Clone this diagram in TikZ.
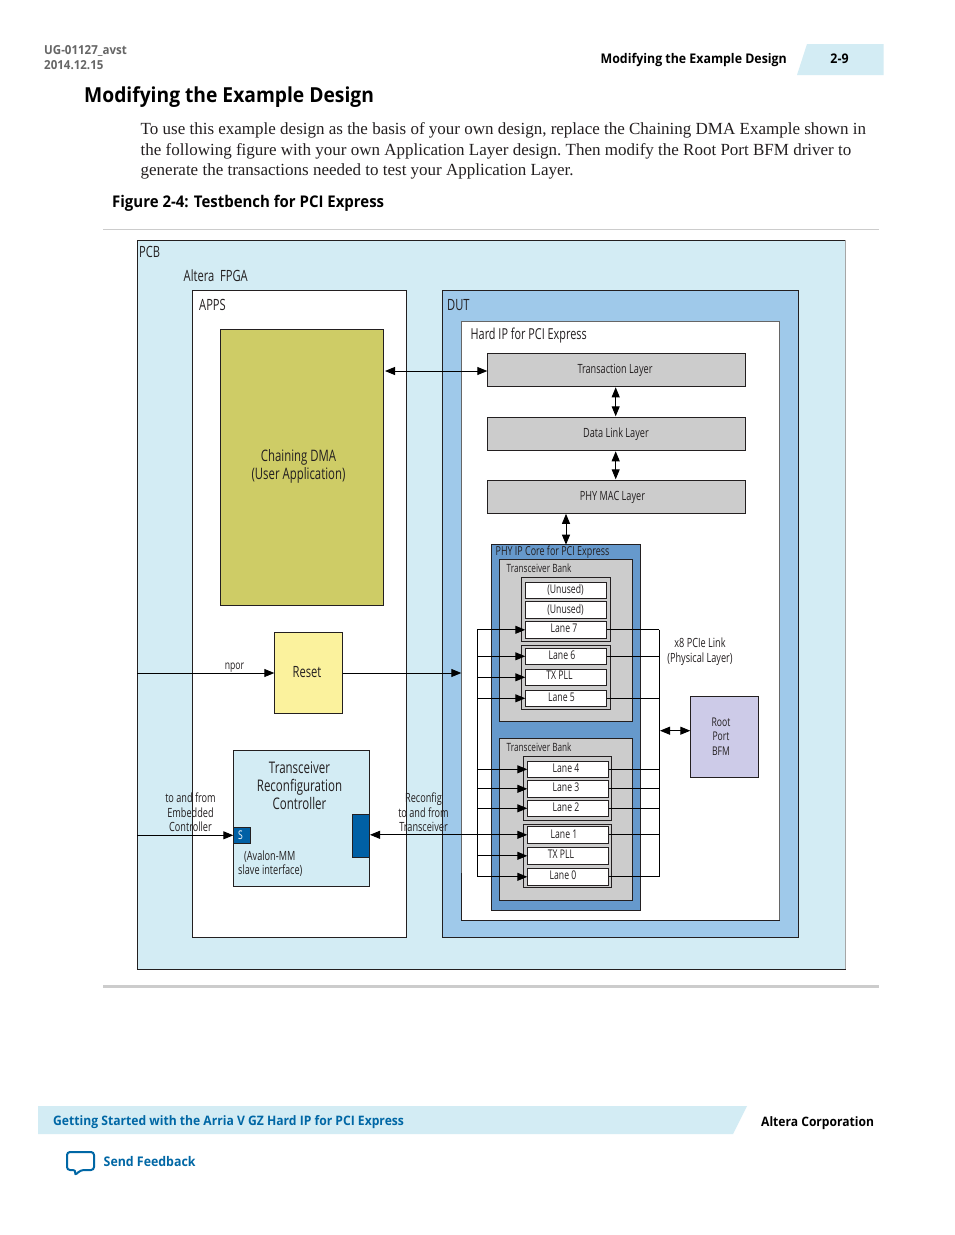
\documentclass[tikz,border=0pt]{standalone}
\usepackage{fontspec}
\usetikzlibrary{arrows.meta,fit}
\setmainfont{Liberation Serif}
\newfontfamily\hd{Open Sans}[FakeStretch=0.93]
\newfontfamily\cnd{Open Sans}[FakeStretch=0.72]
\definecolor{pcbc}{HTML}{D3ECF4}
\definecolor{dutc}{HTML}{9FC9EA}
\definecolor{phyc}{HTML}{6699CC}
\definecolor{grayc}{HTML}{CCCCCC}
\definecolor{dmac}{HTML}{CECC66}
\definecolor{resetc}{HTML}{FBF29D}
\definecolor{blk}{HTML}{0060A5}
\definecolor{rootc}{HTML}{CDCBE8}
\definecolor{linkc}{HTML}{0067A5}
\definecolor{dgray}{HTML}{666666}
\definecolor{ink}{HTML}{231F20}
\newcommand\bx[6]{\node[box,#6,fit={(#2,#3)(#4,#5)}] (#1) {};}
\tikzset{
  box/.style={draw=ink,line width=0.9pt,inner sep=0pt,outer sep=0pt,minimum size=0pt},
  conn/.style={draw=black,line width=0.9pt},
  arr/.style={conn,-{Triangle[length=10pt,width=8pt]}},
  dbl/.style={conn,{Triangle[length=10pt,width=8pt]}-{Triangle[length=10pt,width=8pt]}},
  big/.style={font=\cnd\fontsize{15.5}{18}\selectfont,text=ink,inner sep=0pt,align=center},
  mid/.style={font=\cnd\fontsize{16}{18}\selectfont,text=ink,inner sep=0pt,align=center},
  small/.style={font=\cnd\fontsize{12}{14.6}\selectfont,text=ink,inner sep=0pt,align=center},
  lab/.style={font=\cnd\fontsize{12.7}{14.6}\selectfont,text=ink,inner sep=0pt,align=center},
  lft/.style={anchor=west},
  head/.style={font=\hd\bfseries\fontsize{13.3}{15}\selectfont,inner sep=0pt},
  body/.style={font=\frenchspacing\fontsize{17}{20}\selectfont,anchor=base west,inner sep=0pt,text=ink},
}
\begin{document}
\begin{tikzpicture}[x=1pt,y=-1pt]
\useasboundingbox (0,0) rectangle (954,1235);
\fill[white] (0,0) rectangle (954,1235);
% page furniture
\fill[pcbc] (807,44) -- (883.7,44) -- (883.7,75) -- (797,75) -- cycle;
\node[head,anchor=west,text=dgray,font=\hd\bfseries\fontsize{12.4}{13}\selectfont] (docid) at (44,50.5) {UG-01127\_avst};
\node[head,anchor=west,text=dgray,font=\hd\bfseries\fontsize{12.4}{13}\selectfont] (docdate) at (44,65) {2014.12.15};
\node[head,anchor=east] (runhead) at (787,60) {Modifying the Example Design};
\node[head] (pageno) at (839.5,58.5) {2-9};
\node[head,anchor=west,font=\hd\bfseries\fontsize{20.7}{24}\selectfont] (title) at (84,97.5) {Modifying the Example Design};
\node[body] (b1) at (140.5,134) {To use this example design as the basis of your own design, replace the Chaining DMA Example shown in};
\node[body] (b2) at (140.5,155) {the following figure with your own Application Layer design. Then modify the Root Port BFM driver to};
\node[body] (b3) at (140.5,175) {generate the transactions needed to test your Application Layer.};
\node[head,anchor=west,font=\hd\bfseries\fontsize{16.1}{18}\selectfont] (figcap) at (112,203.5) {Figure 2-4: Testbench for PCI Express};
\draw[grayc,line width=0.8pt] (103,229.5) -- (879,229.5);
\draw[grayc,line width=3pt] (103,986.7) -- (879,986.7);
\fill[pcbc] (38,1106) -- (747,1106) -- (733,1134) -- (38,1134) -- cycle;
\node[head,anchor=west,text=linkc,font=\hd\bfseries\fontsize{13.05}{15}\selectfont] (foot) at (53,1122.5) {Getting Started with the Arria V GZ Hard IP for PCI Express};
\node[head,anchor=west,font=\hd\bfseries\fontsize{13}{15}\selectfont] (corp) at (761,1123) {Altera Corporation};
\node[head,anchor=west,text=linkc] (feedback) at (103.5,1161.5) {Send Feedback};
\draw[linkc,line width=2pt,line join=round,rounded corners=3pt] (67,1152) -- (94,1152) -- (94,1170) -- (81,1170) -- (74.5,1175.5) -- (76,1170) -- (67,1170) -- cycle;
% containers
\bx{pcb}{137.3}{240.3}{845.3}{969.3}{fill=pcbc}
\draw[gray!70,line width=0.9pt] (pcb.north east) -- (pcb.south east);
\bx{apps}{192.3}{290.3}{406.7}{937.3}{fill=white}
\bx{dut}{442.3}{290.3}{798.7}{937.3}{fill=dutc}
\bx{hip}{461.3}{321.3}{779.7}{920}{fill=white,draw=gray!80!black,line width=0.8pt}
\draw[ink,line width=0.8pt] (461.3,873) -- (hip.south west) -- (hip.south east);
\bx{dma}{220.3}{329.3}{383.7}{605.3}{fill=dmac}
\bx{reset}{274.3}{632.5}{342.7}{713.5}{fill=resetc}
\bx{ctrl}{233.3}{750.3}{369.3}{886.3}{fill=pcbc}
\bx{sport}{233.3}{827.3}{250.7}{843.3}{fill=blk}
\bx{rport}{352.3}{814.3}{369.3}{857.3}{fill=blk}
\bx{trans}{487.3}{353.3}{745.7}{386.3}{fill=grayc}
\bx{dlink}{487.3}{417.3}{745.7}{450.3}{fill=grayc}
\bx{mac}{487.3}{480.3}{745.7}{513.3}{fill=grayc}
\bx{phy}{491.7}{544.7}{640.3}{910}{fill=phyc}
\bx{bank1}{499.3}{559.3}{632.7}{721.3}{fill=grayc}
\bx{bank2}{499.3}{738.3}{632.7}{900.3}{fill=grayc}
\bx{g1}{521.3}{577.3}{610.3}{641.3}{fill=grayc}
\bx{g2}{521.3}{645.3}{610.3}{709.3}{fill=grayc}
\bx{g3}{523.3}{756.3}{611.7}{820.3}{fill=grayc}
\bx{g4}{523.3}{824.3}{611.7}{887.3}{fill=grayc}
\bx{unu1}{525.3}{582.3}{606.7}{598.3}{fill=white}
\bx{unu2}{525.3}{601.3}{606.7}{618.3}{fill=white}
\bx{lane7}{525.3}{621.3}{606.7}{638.3}{fill=white}
\bx{lane6}{525.3}{648.3}{606.7}{664.3}{fill=white}
\bx{pll1}{525.3}{669.3}{606.7}{685.3}{fill=white}
\bx{lane5}{525.3}{690.3}{606.7}{706.3}{fill=white}
\bx{lane4}{527.3}{761.3}{608.7}{777.3}{fill=white}
\bx{lane3}{527.3}{780.3}{608.7}{797.3}{fill=white}
\bx{lane2}{527.3}{800.3}{608.7}{816.3}{fill=white}
\bx{lane1}{527.3}{826.3}{608.7}{843.3}{fill=white}
\bx{pll2}{527.3}{847.3}{608.7}{864.3}{fill=white}
\bx{lane0}{527.3}{868.3}{608.7}{885.3}{fill=white}
\bx{root}{690.3}{696.3}{758.7}{777.3}{fill=rootc}
% free ends
\coordinate (lbus) at (477.3,629.8);
\coordinate (lbusb) at (477.3,876.8);
\coordinate (rbus) at (659.3,629.8);
\coordinate (rbusb) at (659.3,876.8);
\coordinate (pcbl) at (137.3,673);
\coordinate (hipl) at (461.3,673);
\coordinate (dmaport) at (385,371);
\coordinate (tlport) at (487.3,371);
\coordinate (busport) at (660,730.7);
\coordinate (rootport) at (690.3,730.7);
\coordinate (macport) at (566,513.8);
\coordinate (rfgport) at (370,834.8);
% connectors
\draw[dbl] (dmaport) -- (tlport);
\draw[dbl,shorten <=0.5pt,shorten >=0.5pt] (615.7,386.8) -- (615.7,416.8);
\draw[dbl,shorten <=0.5pt,shorten >=0.5pt] (615.7,450.8) -- (615.7,479.8);
\draw[dbl] (macport) -- (phy.north);
\draw[arr] (pcbl |- reset.west) -- (reset.west);
\draw[arr] (reset.east) -- (hipl |- reset.east);
\draw[arr] (pcb.west |- sport.west) -- (sport.west);
\draw[dbl] (rfgport) -- (lane1.west);
\draw[conn] (lbus) -- (lbusb);
\draw[conn] (rbus) -- (rbusb);
\foreach \l in {lane7,lane6,pll1,lane5,lane4,lane3,lane2,pll2,lane0}
  \draw[arr] (lbus |- \l.west) -- (\l.west);
\foreach \l in {lane7,lane6,lane5,lane4,lane3,lane2,lane1,lane0}
  \draw[conn] (\l.east) -- (rbus |- \l.east);
\draw[dbl] (busport) -- (rootport);
% labels
\node[big,lft] (tpcb) at (139,251.5) {PCB};
\node[big,lft] (tfpga) at (183.5,275.5) {Altera\ \ FPGA};
\node[big,lft] (tapps) at (199,304.5) {APPS};
\node[big,lft] (tdut) at (447,305) {DUT};
\node[big,lft,font=\cnd\fontsize{15.1}{18}\selectfont] (thip) at (470.5,336) {Hard IP for PCI Express};
\node[big,font=\cnd\fontsize{15.8}{18}\selectfont] (tdma) at (298.5,466.5) {Chaining DMA\\(User Application)};
\node[big] (treset) at (307,672.5) {Reset};
\node[mid,align=center] (tctrl) at (299.5,786) {Transceiver\\Reconfiguration\\Controller};
\node[small,text=white] (ts) at (240.5,835.3) {S};
\node[lab,align=left,lft] (tavl) at (238,863.5) {\hspace*{6pt}(Avalon-MM\\slave interface)};
\node[lab] (tec) at (190.5,812.3) {to and from\\Embedded\\Controller};
\node[lab] (trc) at (423.5,812.3) {Reconfig\\to and from\\Transceiver};
\node[small] (tnpor) at (234.5,668) {npor};
\node[lab] (tlink) at (700,651.5) {x8 PCIe Link\\(Physical Layer)};
\node[small] (troot) at (721,736.5) {Root\\Port\\BFM};
\node[lab] (ttl) at (615,370) {Transaction Layer};
\node[lab] (tdl) at (616,434) {Data Link Layer};
\node[lab] (tmac) at (612.5,497) {PHY MAC Layer};
\node[small,lft,font=\cnd\fontsize{12.4}{14}\selectfont] (tphy) at (495.5,552.3) {PHY IP Core for PCI Express};
\node[small,lft,font=\cnd\fontsize{11.4}{14}\selectfont] (tb1) at (506.5,568.5) {Transceiver Bank};
\node[small,lft,font=\cnd\fontsize{11.4}{14}\selectfont] (tb2) at (506.5,747.5) {Transceiver Bank};
\node[small] (tu1) at (565.5,589.5) {(Unused)};
\node[small] (tu2) at (565.5,609.5) {(Unused)};
\node[small] (tl7) at (564,628.5) {Lane 7};
\node[small] (tl6) at (562,655.5) {Lane 6};
\node[small] (tp1) at (559.5,675) {TX PLL};
\node[small] (tl5) at (561.5,697) {Lane 5};
\node[small] (tl4) at (566,768.5) {Lane 4};
\node[small] (tl3) at (566,787.5) {Lane 3};
\node[small] (tl2) at (566,807.5) {Lane 2};
\node[small] (tl1) at (564,834.5) {Lane 1};
\node[small] (tp2) at (561,854) {TX PLL};
\node[small] (tl0) at (563,875) {Lane 0};
\end{tikzpicture}
\end{document}
